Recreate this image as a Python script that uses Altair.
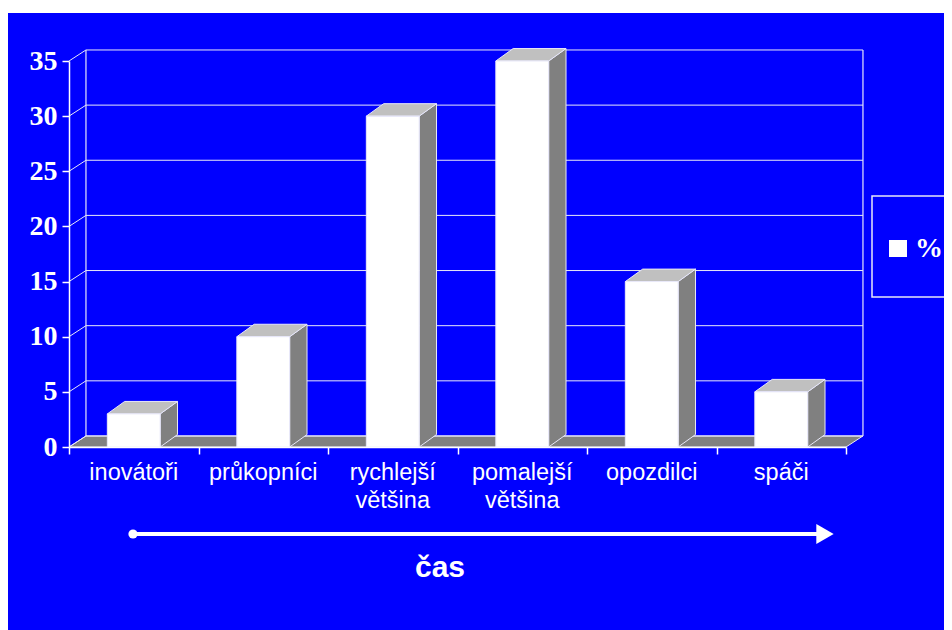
import altair as alt
import pandas as pd

# ---- data ----
categories = ["inovátoři", "průkopníci", "rychlejší\nvětšina", "pomalejší\nvětšina", "opozdilci", "spáči"]
values = [3, 10, 30, 35, 15, 5]
y_ticks = [0, 5, 10, 15, 20, 25, 30, 35]
series_name = "%"
axis_caption = "čas"

# ---- styling constants (data units of the scales) ----
W_PLOT, H_PLOT = 777, 386
PAD_L, PAD_T, PAD_R, PAD_B = 61, 53, 98, 183
N = len(categories)
WALL_DX, WALL_DY = 0.131, 1.0     # depth of the back wall
BAR_DX, BAR_DY = 0.134, 1.13      # depth of each bar
BAR_W = 0.408
BLUE = "#0000FF"
SIDE = "#808080"
TOP = "#C0C0C0"
EDGE = "#E8E8F8"

xscale = alt.Scale(domain=[0, N], nice=False, zero=False)
yscale = alt.Scale(domain=[0, 35], nice=False, zero=False)
xaxis = alt.Axis(values=list(range(N + 1)), labels=False, ticks=True, tickSize=7,
                 tickColor="white", domainColor="white", grid=False, title=None,
                 domainWidth=1.5, tickWidth=1.5, zindex=2)
yaxis = alt.Axis(values=y_ticks, tickSize=7, tickColor="white", domainColor="white",
                 grid=False, title=None, labelColor="white", labelFont="Liberation Serif",
                 labelFontWeight="bold", labelFontSize=28, labelPadding=5,
                 domainWidth=1.5, tickWidth=1.5, zindex=2)


def X(f):
    return alt.X(f, type="quantitative", scale=xscale, axis=xaxis)


def Y(f):
    return alt.Y(f, type="quantitative", scale=yscale, axis=yaxis)


one = pd.DataFrame({"k": [0]})

# background
bg = alt.Chart(one).mark_rect(fill=BLUE).encode(
    x=alt.value(-PAD_L), x2=alt.value(W_PLOT + PAD_R),
    y=alt.value(-48), y2=alt.value(H_PLOT + PAD_B))

# back wall grid lines
grid_df = pd.DataFrame({"v": y_ticks})
grid_df["yb"] = grid_df["v"] + WALL_DY
grid_df["x0"] = WALL_DX
grid_df["x1"] = N + WALL_DX
grid_df["xa"] = 0.0
back_grid = alt.Chart(grid_df).mark_rule(color=EDGE, strokeWidth=1).encode(
    x=X("x0"), x2="x1", y=Y("yb"))
side_diag = alt.Chart(grid_df).mark_rule(color=EDGE, strokeWidth=1).encode(
    x=X("xa"), x2="x0", y=Y("v"), y2="yb")

edges_df = pd.DataFrame({"x": [WALL_DX, N + WALL_DX], "y0": [WALL_DY, WALL_DY],
                         "y1": [35 + WALL_DY, 35 + WALL_DY]})
wall_edges = alt.Chart(edges_df).mark_rule(color=EDGE, strokeWidth=1.2).encode(
    x=X("x"), y=Y("y0"), y2="y1")

# floor
floor_df = pd.DataFrame({"y": [0.0, WALL_DY], "xl": [0.0, WALL_DX], "xr": [N, N + WALL_DX]})
floor = alt.Chart(floor_df).mark_area(orient="horizontal", fill=SIDE, stroke=EDGE,
                                      strokeWidth=1).encode(
    y=Y("y"), x=X("xl"), x2="xr")

# bars
bars = pd.DataFrame({"cat": categories, "v": values})
bars["c"] = [i + 0.5 for i in range(N)]
bars["l"] = bars["c"] - BAR_W / 2
bars["r"] = bars["c"] + BAR_W / 2
bars["zero"] = 0.0

side_rows = []
top_rows = []
for _, b in bars.iterrows():
    side_rows.append({"cat": b["cat"], "x": b["r"], "yt": b["v"], "yb": 0.0})
    side_rows.append({"cat": b["cat"], "x": b["r"] + BAR_DX, "yt": b["v"] + BAR_DY, "yb": BAR_DY})
    top_rows.append({"cat": b["cat"], "y": b["v"], "xl": b["l"], "xr": b["r"]})
    top_rows.append({"cat": b["cat"], "y": b["v"] + BAR_DY, "xl": b["l"] + BAR_DX, "xr": b["r"] + BAR_DX})
side_df = pd.DataFrame(side_rows)
top_df = pd.DataFrame(top_rows)

bar_side = alt.Chart(side_df).mark_area(fill=SIDE, stroke=EDGE, strokeWidth=1,
                                        orient="vertical").encode(
    x=X("x"), y=Y("yt"), y2="yb", detail="cat:N")
bar_top = alt.Chart(top_df).mark_area(fill=TOP, stroke=EDGE, strokeWidth=1,
                                      orient="horizontal").encode(
    y=Y("y"), x=X("xl"), x2="xr", detail="cat:N")
bar_front = alt.Chart(bars).mark_rect(fill="white", stroke=EDGE, strokeWidth=1).encode(
    x=X("l"), x2="r", y=Y("zero"), y2="v")

# category labels
labels = alt.Chart(bars).mark_text(color="white", font="Liberation Sans", fontSize=23.5,
                                   align="center", baseline="alphabetic",
                                   lineBreak="\n", lineHeight=28).encode(
    x=X("c"), y=alt.value(H_PLOT + 33), text="cat:N")

# time arrow
arrow_line = alt.Chart(one).mark_rule(color="white", strokeWidth=4).encode(
    x=alt.value(64), x2=alt.value(748), y=alt.value(473))
arrow_dot = alt.Chart(one).mark_point(shape="circle", filled=True, color="white",
                                      size=85, opacity=1).encode(
    x=alt.value(64), y=alt.value(473))
arrow_head = alt.Chart(one).mark_point(shape="triangle-right", filled=True, color="white",
                                       size=400, opacity=1).encode(
    x=alt.value(756), y=alt.value(473))
caption = alt.Chart(pd.DataFrame({"t": [axis_caption]})).mark_text(
    color="white", font="Liberation Sans", fontWeight="bold", fontSize=30,
    align="center", baseline="alphabetic").encode(
    x=alt.value(371), y=alt.value(516), text="t:N")

# legend
leg_box = alt.Chart(one).mark_rect(fill=BLUE, stroke=EDGE, strokeWidth=1.5).encode(
    x=alt.value(803), x2=alt.value(900), y=alt.value(135), y2=alt.value(236))
leg_sym = alt.Chart(one).mark_rect(fill="white").encode(
    x=alt.value(820), x2=alt.value(838), y=alt.value(179), y2=alt.value(196))
leg_txt = alt.Chart(pd.DataFrame({"t": [series_name]})).mark_text(
    color="white", font="Liberation Serif", fontWeight="bold", fontSize=28,
    align="left", baseline="alphabetic").encode(
    x=alt.value(846), y=alt.value(196), text="t:N")

chart = alt.layer(
    bg, floor, back_grid, side_diag, wall_edges,
    bar_side, bar_top, bar_front, labels,
    arrow_line, arrow_dot, arrow_head, caption,
    leg_box, leg_sym, leg_txt,
).properties(
    width=W_PLOT, height=H_PLOT,
    autosize=alt.AutoSizeParams(type="none"),
    padding={"left": PAD_L, "top": PAD_T, "right": PAD_R, "bottom": PAD_B},
    background="white",
).configure_view(stroke=None)

chart.save("out.html", embed_options={"renderer": "svg", "actions": False})
